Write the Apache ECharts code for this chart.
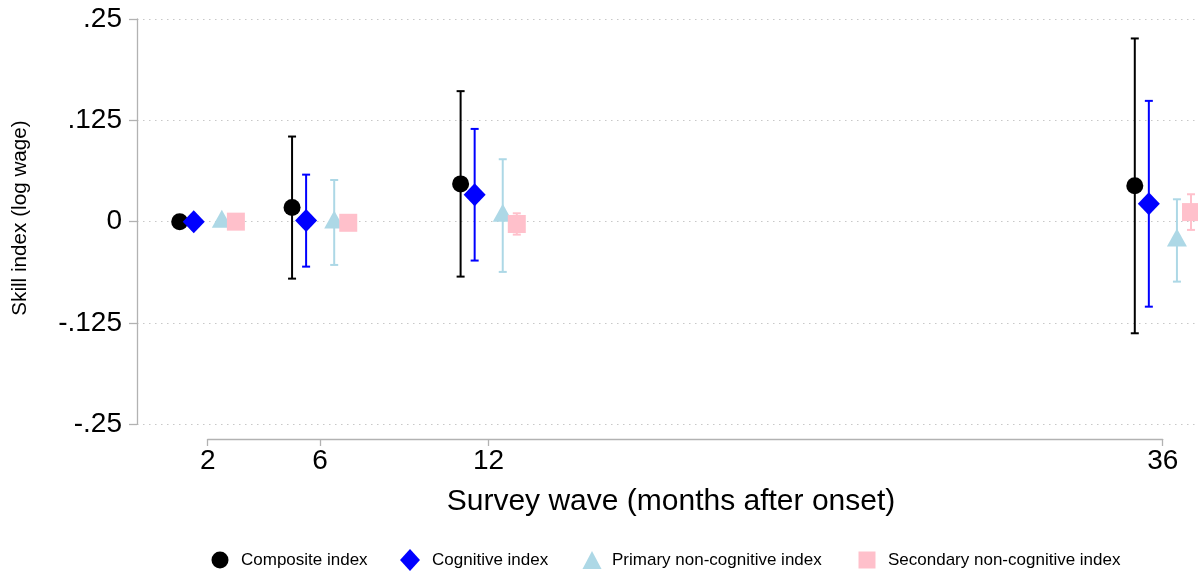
<!DOCTYPE html>
<html>
<head>
<meta charset="utf-8">
<script src="https://cdn.jsdelivr.net/npm/echarts@6/dist/echarts.min.js"></script>
<style>html,body{margin:0;padding:0;background:#fff;}#c{width:1198px;height:573px;}</style>
</head>
<body>
<div id="c"></div>
<script>
// ---- data ----
var waves = [2, 6, 12, 36];
var waveTickLabels = ['2', '6', '12', '36'];
var seriesNames = ['Composite index', 'Cognitive index', 'Primary non-cognitive index', 'Secondary non-cognitive index'];
var xOffsets = [-1, -0.5, 0.5, 1];

var compositeEst  = [0, 0.0174, 0.0466, 0.0443];
var compositeLow  = [null, -0.0703, -0.0678, -0.1377];
var compositeHigh = [null, 0.1050, 0.1610, 0.2260];

var cognitiveEst  = [0, 0.0013, 0.0332, 0.0220];
var cognitiveLow  = [null, -0.0555, -0.0480, -0.1049];
var cognitiveHigh = [null, 0.0580, 0.1144, 0.1490];

var primaryEst  = [0, -0.0010, 0.0073, -0.0232];
var primaryLow  = [null, -0.0534, -0.0620, -0.0740];
var primaryHigh = [null, 0.0514, 0.0770, 0.0276];

var secondaryEst  = [0, -0.0014, -0.0029, 0.0118];
var secondaryLow  = [null, -0.0080, -0.0160, -0.0102];
var secondaryHigh = [null, 0.0050, 0.0103, 0.0338];

var yTicks = [-0.25, -0.125, 0, 0.125, 0.25];
var yTickLabels = ['-.25', '-.125', '0', '.125', '.25'];

// ---- styling ----
var colors = ['#000000', '#0000FF', '#ADD8E6', '#FFC0CB'];
var symbols = ['circle', 'diamond', 'triangle', 'rect'];
var symbolSizes = [17, [22, 23], [20, 18], 18];
var symbolOffsets = [[0, 0], [0, 0], [0, -3], [0, 0]];
var FONT = 'Liberation Sans, Arial, Helvetica, sans-serif';

var ests = [compositeEst, cognitiveEst, primaryEst, secondaryEst];
var lows = [compositeLow, cognitiveLow, primaryLow, secondaryLow];
var highs = [compositeHigh, cognitiveHigh, primaryHigh, secondaryHigh];

var series = [];
for (var s = 0; s < 4; s++) {
  (function (s) {
    var ciData = [];
    var ptData = [];
    for (var i = 0; i < waves.length; i++) {
      var x = waves[i] + xOffsets[s];
      ptData.push([x, ests[s][i]]);
      if (lows[s][i] !== null) ciData.push([x, lows[s][i], highs[s][i]]);
    }
    series.push({
      type: 'custom',
      name: 'ci' + s,
      xAxisIndex: 0, yAxisIndex: 0,
      z: 2,
      silent: true,
      renderItem: function (params, api) {
        var x = api.value(0);
        var pHi = api.coord([x, api.value(2)]);
        var pLo = api.coord([x, api.value(1)]);
        var hw = 4;
        var st = { stroke: colors[s], lineWidth: 2, fill: null };
        return {
          type: 'group',
          children: [
            { type: 'line', shape: { x1: pHi[0], y1: pHi[1], x2: pLo[0], y2: pLo[1] }, style: st },
            { type: 'line', shape: { x1: pHi[0] - hw, y1: pHi[1], x2: pHi[0] + hw, y2: pHi[1] }, style: st },
            { type: 'line', shape: { x1: pLo[0] - hw, y1: pLo[1], x2: pLo[0] + hw, y2: pLo[1] }, style: st }
          ]
        };
      },
      encode: { x: 0, y: [1, 2] },
      data: ciData
    });
    series.push({
      type: 'scatter',
      name: seriesNames[s],
      xAxisIndex: 0, yAxisIndex: 0,
      z: 2,
      symbol: symbols[s],
      symbolSize: symbolSizes[s],
      symbolOffset: symbolOffsets[s],
      itemStyle: { color: colors[s], opacity: 1 },
      emphasis: { disabled: true },
      data: ptData
    });
  })(s);
}

// legends: one per item, positioned individually
var legendCfg = [
  { cx: 220, tx: 241, w: 17, h: 17 },
  { cx: 410, tx: 432, w: 20, h: 22 },
  { cx: 592, tx: 612, w: 19, h: 18 },
  { cx: 867, tx: 888, w: 17, h: 17 }
];
var legends = legendCfg.map(function (c, i) {
  var left = c.cx - c.w / 2;
  var pad = c.tx - (left + c.w + 5);
  return {
    data: [{ name: seriesNames[i], icon: symbols[i], itemStyle: { color: colors[i] } }],
    left: left,
    top: 560 - c.h / 2,
    padding: 0,
    itemWidth: c.w,
    itemHeight: c.h,
    selectedMode: false,
    textStyle: { fontSize: 17, color: '#000', fontFamily: FONT, padding: [0, 0, 0, pad] }
  };
});

var chart = echarts.init(document.getElementById('c'), null, { renderer: 'canvas' });
chart.setOption({
  animation: false,
  backgroundColor: '#fff',
  legend: legends,
  grid: [
    { left: 137, right: 0, top: 19, bottom: 148.7 },
    { left: 207.7, right: 35.3, top: 430, height: 9 }
  ],
  xAxis: [
    { type: 'value', gridIndex: 0, min: -0.52, max: 37.25, show: false },
    {
      type: 'value', gridIndex: 1, min: waves[0], max: waves[waves.length - 1],
      position: 'bottom',
      axisLine: { show: true, lineStyle: { color: '#B2B2B2', width: 1.3 } },
      axisTick: { show: true, length: 7, customValues: waves, lineStyle: { color: '#B2B2B2', width: 1.3 } },
      axisLabel: {
        show: true, customValues: waves, margin: 8,
        fontSize: 28, color: '#000', fontFamily: FONT,
        formatter: function (v) { var k = waves.indexOf(v); return k >= 0 ? waveTickLabels[k] : ''; }
      },
      splitLine: { show: false }
    }
  ],
  yAxis: [
    {
      type: 'value', gridIndex: 0, min: -0.25, max: 0.25, interval: 0.125,
      axisLine: { show: true, onZero: false, lineStyle: { color: '#B2B2B2', width: 1.3 } },
      axisTick: { show: true, length: 8, lineStyle: { color: '#B2B2B2', width: 1.3 } },
      axisLabel: {
        margin: 15, fontSize: 28, color: '#000', fontFamily: FONT,
        formatter: function (v) {
          for (var k = 0; k < yTicks.length; k++) if (Math.abs(yTicks[k] - v) < 1e-9) return yTickLabels[k];
          return '';
        }
      },
      splitLine: { show: true, lineStyle: { color: '#C8C8C8', width: 1.2, type: [1.5, 4.5] } }
    },
    { type: 'value', gridIndex: 1, show: false, min: 0, max: 1 }
  ],
  graphic: [
    {
      type: 'text', x: 671, y: 502,
      style: { text: 'Survey wave (months after onset)', fontSize: 30, fontFamily: FONT, fill: '#000', textAlign: 'center', textVerticalAlign: 'middle' }
    },
    {
      type: 'text', x: 20, y: 218, rotation: Math.PI / 2,
      style: { text: 'Skill index (log wage)', fontSize: 20.7, fontFamily: FONT, fill: '#000', textAlign: 'center', textVerticalAlign: 'middle' }
    }
  ],
  series: series
});
</script>
</body>
</html>
